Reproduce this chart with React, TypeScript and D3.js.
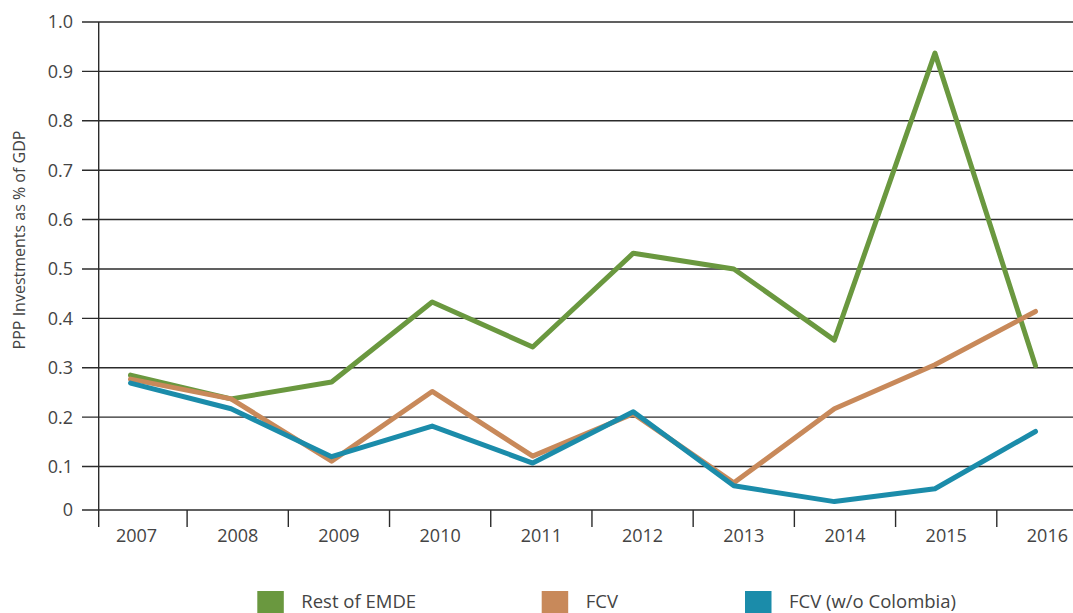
import React from "react";
import * as d3 from "d3";

const years = ["2007","2008","2009","2010","2011","2012","2013","2014","2015","2016"];
const restOfEMDE = [0.285,0.237,0.271,0.433,0.342,0.532,0.5,0.356,0.937,0.304];
const fcv = [0.277,0.237,0.111,0.252,0.121,0.207,0.067,0.217,0.306,0.414];
const fcvNoColombia = [0.269,0.217,0.12,0.182,0.107,0.211,0.061,0.029,0.055,0.171];
const yTicks = [0.1,0.2,0.3,0.4,0.5,0.6,0.7,0.8,0.9,1.0];
const yTickLabels = ["0.1","0.2","0.3","0.4","0.5","0.6","0.7","0.8","0.9","1.0"];
const seriesNames = ["Rest of EMDE","FCV","FCV (w/o Colombia)"];
const colors = ["#6a983f","#c8895a","#1b8caa"];

export default function App() {
  const W = 1073, H = 613;
  const font = "'Open Sans', Lato, sans-serif";
  const axisX = 98.7;
  const yBase = 0.012;
  const y = d3.scaleLinear().domain([yBase, 1]).range([510, 22]);
  const xPts = d3.scalePoint<string>().domain(years).range([130.5, 1035.5]);
  const xBand = d3.scaleBand<string>().domain(years).range([85.9, 1098]);
  const line = d3.line<number>().x((_, i) => xPts(years[i])!).y(d => y(d));
  const allSeries = [restOfEMDE, fcv, fcvNoColombia];
  const legendX = [257.3, 541.7, 745];
  return (
    <svg width={W} height={H} style={{ position: "absolute", left: 0, top: 0, background: "#fff" }}>
      {yTicks.map((t, i) => (
        <g key={t}>
          <line x1={82} x2={W} y1={y(t)} y2={y(t)} stroke="#2b2b2b" strokeWidth={1.4} />
          <text x={73} y={y(t)} dy="0.36em" textAnchor="end" fontFamily={font} fontSize={18} fill="#444">{yTickLabels[i]}</text>
        </g>
      ))}
      <line x1={82} x2={W} y1={y(yBase)} y2={y(yBase)} stroke="#2b2b2b" strokeWidth={1.4} />
      <text x={73} y={y(yBase)} dy="0.36em" textAnchor="end" fontFamily={font} fontSize={18} fill="#444">0</text>
      <line x1={axisX} x2={axisX} y1={y(1)} y2={527} stroke="#2b2b2b" strokeWidth={1.4} />
      {years.slice(1).map(yr => (
        <line key={yr} x1={xBand(yr)!} x2={xBand(yr)!} y1={510} y2={527} stroke="#2b2b2b" strokeWidth={1.4} />
      ))}
      {years.map(yr => (
        <text key={yr} x={xBand(yr)! + xBand.bandwidth() / 2} y={542} textAnchor="middle" fontFamily={font} fontSize={18} fill="#444">{yr}</text>
      ))}
      <text transform={`translate(25,240) rotate(-90)`} textAnchor="middle" fontFamily={font} fontSize={16} fill="#444">PPP Investments as % of GDP</text>
      {allSeries.map((s, i) => (
        <path key={i} d={line(s)!} fill="none" stroke={colors[i]} strokeWidth={5} strokeLinejoin="round" strokeLinecap="round" />
      ))}
      {seriesNames.map((n, i) => (
        <g key={n}>
          <rect x={legendX[i]} y={591} width={26.5} height={22} fill={colors[i]} />
          <text x={legendX[i] + 44} y={607.5} fontFamily={font} fontSize={18.5} fill="#444">{n}</text>
        </g>
      ))}
    </svg>
  );
}
